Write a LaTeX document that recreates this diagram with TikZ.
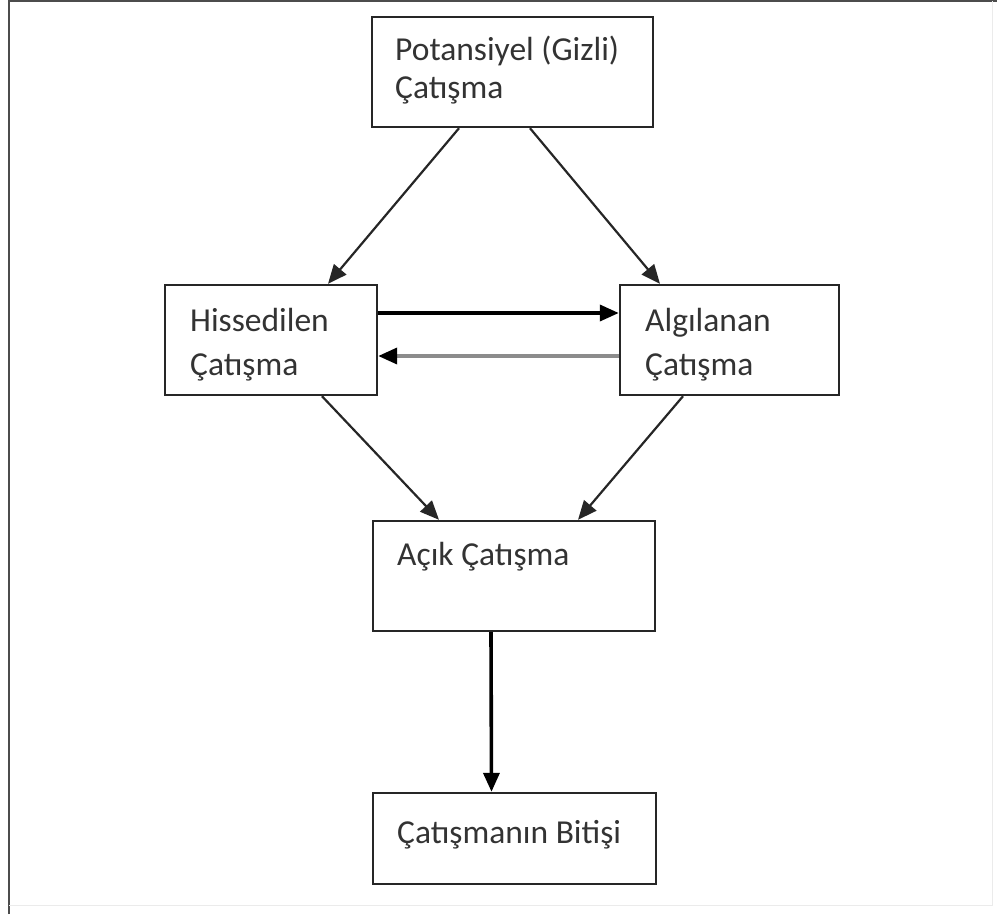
\documentclass[tikz,border=0pt]{standalone}
\usepackage{fontspec}
\setmainfont{Carlito}
\usetikzlibrary{arrows.meta}
\begin{document}
\begin{tikzpicture}[x=1pt,y=-1pt,
  box/.style={draw=black!85,line width=2.4pt,minimum width=#1,inner sep=0pt},
  lbl/.style={anchor=base west,inner sep=0pt,font=\fontsize{33.5}{40}\selectfont,text=black!80},
  conn/.style={line width=2.2pt,draw=black!85,-{Triangle[length=19pt,width=16pt]}},
  thickconn/.style={line width=3.6pt,draw=black,-{Triangle[length=19pt,width=16pt]}},
  grayconn/.style={line width=3.6pt,draw=black!45,-{Triangle[length=19pt,width=16pt,fill=black,color=black]}}]
\useasboundingbox (0,0) rectangle (997,914);
% outer frame
\draw[black!70,line width=2.4pt] (9,914) -- (9,1) -- (997,1);
\draw[black!8,line width=1pt] (9,905) -- (992,905) -- (992,1);
% boxes
\node[box=281pt,minimum height=110pt] (pot) at (512.5,72) {};
\node[box=212pt,minimum height=110pt] (hiss) at (271,340) {};
\node[box=219pt,minimum height=110pt] (alg) at (729.5,340) {};
\node[box=282pt,minimum height=110pt] (acik) at (514,576) {};
\node[box=283pt,minimum height=91pt] (bitis) at (514.5,838.5) {};
% labels
\node[lbl] (potA) at (395,60) {Potansiyel (Gizli)};
\node[lbl] (potB) at (395,98) {Çatışma};
\node[lbl] (hissA) at (190,331) {Hissedilen};
\node[lbl] (hissB) at (190,375) {Çatışma};
\node[lbl] (algA) at (645,331) {Algılanan};
\node[lbl] (algB) at (645,375) {Çatışma};
\node[lbl] (acikA) at (397,565) {Açık Çatışma};
\node[lbl] (bitisA) at (397,843) {Çatışmanın Bitişi};
% connectors
\draw[conn] ([xshift=-53.5pt]pot.south) -- ([xshift=57pt]hiss.north);
\draw[conn] ([xshift=17.5pt]pot.south) -- ([xshift=-69.5pt]alg.north);
\draw[thickconn] ([yshift=27pt]hiss.east) -- ([yshift=27pt]alg.west);
\draw[grayconn] ([yshift=-16pt]alg.west) -- ([yshift=-16pt]hiss.east);
\draw[conn] ([xshift=51pt]hiss.south) -- ([xshift=-75pt]acik.north);
\draw[conn] ([xshift=-46.5pt]alg.south) -- ([xshift=64pt]acik.north);
\draw[thickconn] ([xshift=-23pt]acik.south) -- ([xshift=-23pt]bitis.north);
\end{tikzpicture}
\end{document}
